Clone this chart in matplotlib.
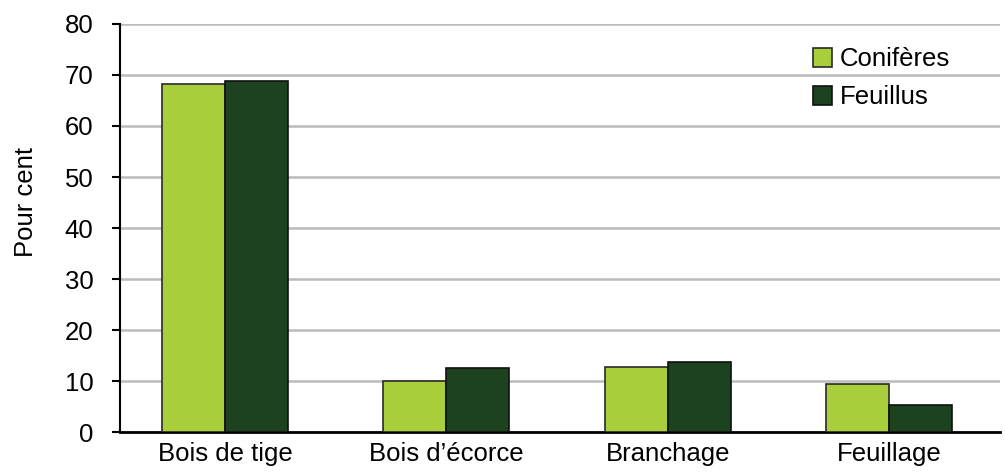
import numpy as np
import matplotlib.pyplot as plt

plt.rcParams['font.family'] = ['Liberation Sans', 'DejaVu Sans']

# Données
categories = ["Bois de tige", "Bois d\u2019écorce", "Branchage", "Feuillage"]
coniferes = [68.2, 10.0, 12.7, 9.5]
feuillus = [68.8, 12.5, 13.8, 5.2]

x = np.arange(len(categories))
w = 0.285

fig = plt.figure(figsize=(10.05, 4.76), dpi=100)
ax = fig.add_axes([0.1194, 0.0924, 0.8756, 0.8572])

ax.bar(x - w/2, coniferes, w, color="#A8CE3B", edgecolor="#2a2a2a", linewidth=1.2,
       label="Conifères", zorder=3)
ax.bar(x + w/2, feuillus, w, color="#1C4220", edgecolor="#111111", linewidth=1.2,
       label="Feuillus", zorder=3)

ax.set_ylim(0, 80)
ax.set_xlim(-0.4745, 3.5016)
ax.set_yticks(range(0, 81, 10))
ax.set_xticks(x)
ax.set_xticklabels(categories)
ax.tick_params(axis="x", length=0, labelsize=18.5, pad=7)
ax.tick_params(axis="y", length=6, width=1.5, labelsize=18.5, pad=13, direction="out")
ax.yaxis.grid(True, color="#BBBBBB", linewidth=1.8, zorder=0)
ax.set_axisbelow(True)
for s in ["top", "right"]:
    ax.spines[s].set_visible(False)
ax.spines["left"].set_linewidth(1.5)
ax.spines["bottom"].set_linewidth(2)
ax.set_ylabel("Pour cent", fontsize=18.5)
ax.yaxis.set_label_coords(-0.093, 0.564)

ax.legend(loc="upper right", bbox_to_anchor=(0.97, 1.0), frameon=False, fontsize=18.5,
          handlelength=0.75, handleheight=0.75, handletextpad=0.3, labelspacing=0.55)

fig.savefig("out.png", dpi=100)
